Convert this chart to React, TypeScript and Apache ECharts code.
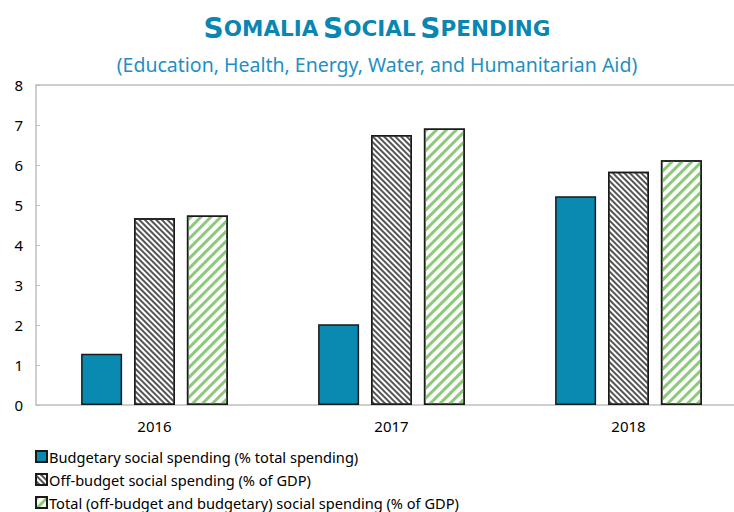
import React, { useEffect, useRef } from "react";
import * as echarts from "echarts";

const categories = ["2016", "2017", "2018"];
const budgetary = [1.28, 2.02, 5.22];
const offBudget = [4.67, 6.75, 5.83];
const total = [4.74, 6.91, 6.12];
const seriesNames = [
  "Budgetary social spending (% total spending)",
  "Off-budget social spending (% of GDP)",
  "Total (off-budget and budgetary) social spending (% of GDP)",
];
const yTicks = { min: 0, max: 8, interval: 1 };

export default function App() {
  const ref = useRef<HTMLDivElement>(null);
  useEffect(() => {
    document.body.style.margin = "0";
    const chart = echarts.init(ref.current!, null, { renderer: "svg" });
    const font = "Noto Sans";
    const legendTops = [449, 472, 495];
    chart.setOption({
      animation: false,
      textStyle: { fontFamily: font },
      title: [
        {
          text: "{b|S}{s|OMALIA} {b|S}{s|OCIAL} {b|S}{s|PENDING}",
          left: 372,
          top: 9,
          textAlign: "center",
          textStyle: {
            rich: {
              b: { fontSize: 28, fontWeight: "bold", color: "#0a86b3", fontFamily: "DejaVu Sans" },
              s: { fontSize: 21.5, fontWeight: "bold", color: "#0a86b3", fontFamily: "DejaVu Sans" },
            },
          },
        },
        {
          text: "(Education, Health, Energy, Water, and Humanitarian Aid)",
          left: 372,
          top: 49,
          textAlign: "center",
          textStyle: { fontSize: 19.5, fontWeight: "normal", color: "#1f8fc3", fontFamily: font },
        },
      ],
      grid: { left: 36, top: 85, width: 711, height: 320, containLabel: false },
      legend: seriesNames.map((n, i) => ({
        orient: "vertical",
        left: 35,
        top: legendTops[i],
        padding: 0,
        itemWidth: 11,
        itemHeight: 11,
        icon: "rect",
        textStyle: { fontSize: 14.6, color: "#000", fontFamily: font, padding: [0, 0, 0, -3] },
        data: [n],
      })),
      xAxis: [
        {
          type: "category",
          data: categories,
          axisLine: { lineStyle: { color: "#bfbfbf", width: 1.5 } },
          axisTick: { inside: true, length: 5, lineStyle: { color: "#bfbfbf" } },
          axisLabel: { fontSize: 15, color: "#000", margin: 13 },
        },
        {
          type: "category",
          data: categories,
          position: "top",
          axisLine: { show: true, lineStyle: { color: "#bfbfbf", width: 1.5 } },
          axisTick: { show: false },
          axisLabel: { show: false },
        },
      ],
      yAxis: {
        type: "value",
        min: yTicks.min,
        max: yTicks.max,
        interval: yTicks.interval,
        axisLine: { show: true, lineStyle: { color: "#bfbfbf", width: 1.5 } },
        axisTick: { show: true, inside: true, length: 4, lineStyle: { color: "#bfbfbf" } },
        axisLabel: { fontSize: 15, color: "#000", margin: 13 },
        splitLine: { show: false },
      },
      series: [
        {
          name: seriesNames[0],
          type: "bar",
          data: budgetary,
          barWidth: 41,
          barGap: "29%",
          itemStyle: { color: "#0a8ab0", borderColor: "#1a1a1a", borderWidth: 1.5 },
        },
        {
          name: seriesNames[1],
          type: "bar",
          data: offBudget,
          barWidth: 41,
          barGap: "29%",
          itemStyle: {
            color: "#ffffff",
            borderColor: "#1a1a1a",
            borderWidth: 1.5,
            decal: {
              symbol: "rect",
              color: "#555555",
              dashArrayX: [1, 0],
              dashArrayY: [1.5, 1.5],
              rotation: Math.PI / 4,
            },
          },
        },
        {
          name: seriesNames[2],
          type: "bar",
          data: total,
          barWidth: 41,
          barGap: "29%",
          itemStyle: {
            color: "#ffffff",
            borderColor: "#1a1a1a",
            borderWidth: 1.5,
            decal: {
              symbol: "rect",
              color: "#8dc97a",
              dashArrayX: [1, 0],
              dashArrayY: [2.5, 3.5],
              rotation: -Math.PI / 4,
            },
          },
        },
      ],
    });
    return () => chart.dispose();
  }, []);
  return (
    <div style={{ width: 734, height: 512, overflow: "hidden" }}>
      <div ref={ref} style={{ width: 747, height: 512 }} />
    </div>
  );
}
